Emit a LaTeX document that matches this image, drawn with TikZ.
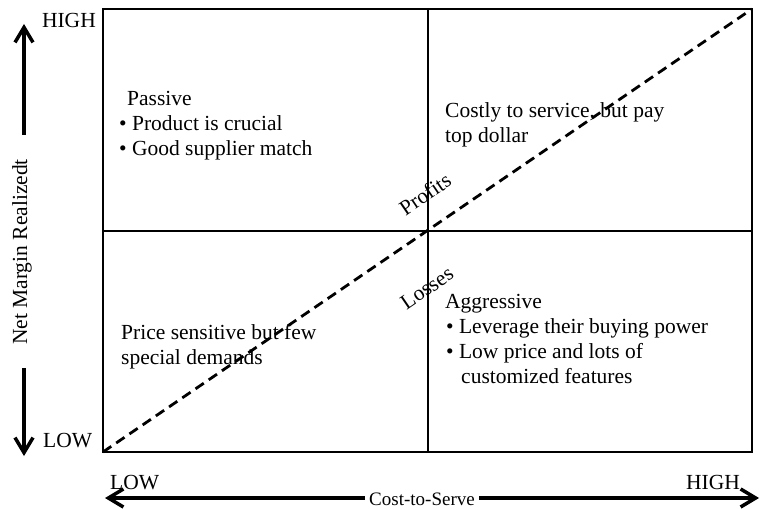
\documentclass[tikz,border=0pt]{standalone}
\usepackage{fontspec}
\setmainfont{Liberation Serif}
\usetikzlibrary{arrows.meta}
\begin{document}
\begin{tikzpicture}[x=1pt,y=-1pt,
  lbl/.style={font=\fontsize{21.5}{26}\selectfont, inner sep=0pt},
  ln/.style={lbl, anchor=base west},
  grid/.style={line width=1.2pt},
  bigarrow/.style={line width=3.5pt, -{Straight Barb[length=15pt,width=18pt,line width=3.5pt]}}]
\useasboundingbox (0,0) rectangle (763,510);
\coordinate (tl) at (103,9);
\coordinate (br) at (752,452);
\coordinate (bl) at (103,452);
\coordinate (tr) at (752,9);
\draw[grid] (tl) rectangle (br);
\coordinate (mt) at (428,9);
\coordinate (mb) at (428,452);
\coordinate (ml) at (103,231);
\coordinate (mr) at (752,231);
\draw[grid] (mt) -- (mb);
\draw[grid] (ml) -- (mr);
\draw[line width=2.8pt, dash pattern=on 10pt off 6pt] (bl) -- (tr);

% vertical axis
\node[lbl, anchor=base east] (high) at (96,28) {HIGH};
\node[lbl, anchor=base west] (low) at (43,447) {LOW};
\coordinate (ua) at (24,135);
\coordinate (ub) at (24,24);
\draw[bigarrow] (ua) -- (ub);
\coordinate (da) at (24,368);
\coordinate (db) at (24,456);
\draw[bigarrow] (da) -- (db);
\node[lbl, rotate=90] (ylab) at (22,252) {Net Margin Realizedt};

% horizontal axis
\node[lbl, anchor=base west] (xlow) at (110,489) {LOW};
\node[lbl, anchor=base east] (xhigh) at (740,489) {HIGH};
\node[lbl, font=\fontsize{19}{22}\selectfont, anchor=base] (xlab) at (422,505) {Cost-to-Serve};
\coordinate (la) at (365,498);
\coordinate (lb) at (105,498);
\draw[bigarrow] (la) -- (lb);
\coordinate (ra) at (479,498);
\coordinate (rb) at (759,498);
\draw[bigarrow] (ra) -- (rb);

% quadrant texts
\node[ln] (p1) at (127,106) {Passive};
\node[ln] (p2) at (119,131) {• Product is crucial};
\node[ln] (p3) at (119,156) {• Good supplier match};
\node[ln] (c1) at (445,118) {Costly to service, but pay};
\node[ln] (c2) at (445,143) {top dollar};
\node[ln] (s1) at (121,340) {Price sensitive but few};
\node[ln] (s2) at (121,365) {special demands};
\node[ln] (a1) at (445,309) {Aggressive};
\node[ln] (a2) at (446,334) {• Leverage their buying power};
\node[ln] (a3) at (446,359) {• Low price and lots of};
\node[ln] (a4) at (461,384) {customized features};
\node[lbl, rotate=34.3] (profits) at (425,194) {Profits};
\node[lbl, rotate=34.3] (losses) at (427,288) {Losses};
\end{tikzpicture}
\end{document}
